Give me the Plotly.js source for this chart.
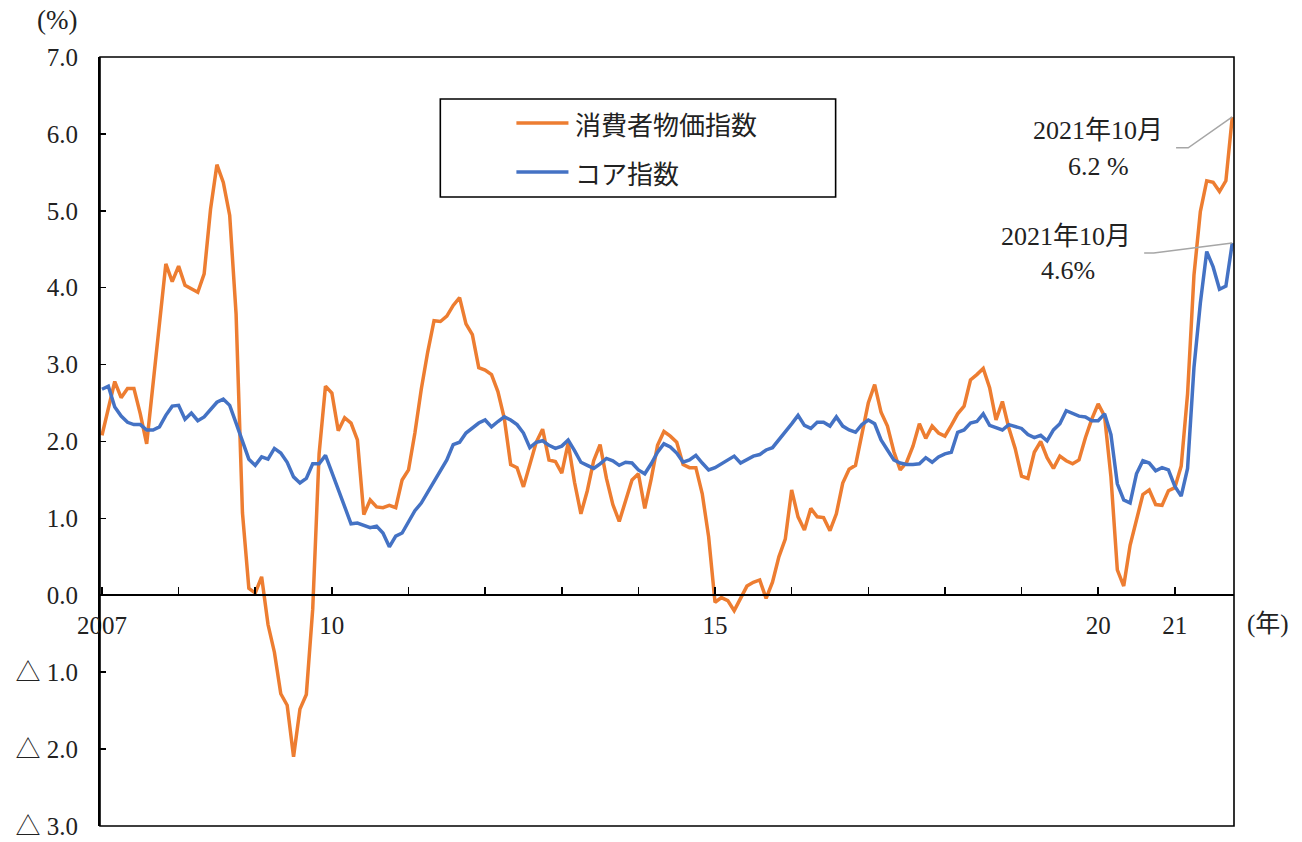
<!DOCTYPE html>
<html>
<head>
<meta charset="utf-8">
<script src="https://cdn.plot.ly/plotly-3.0.1.min.js"></script>
<style>
  html, body { margin: 0; padding: 0; background: #ffffff; }
  #chart { width: 1302px; height: 842px; }
</style>
</head>
<body>
<div id="chart"></div>
<script>
// Monthly data, Jan 2007 - Oct 2021 (year-on-year %)
const cpi = [
  // 2007
  2.08, 2.42, 2.78, 2.57, 2.69, 2.69, 2.36, 1.97, 2.76, 3.54, 4.31, 4.08,
  // 2008
  4.28, 4.03, 3.98, 3.94, 4.18, 5.02, 5.60, 5.37, 4.94, 3.66, 1.07, 0.09,
  // 2009
  0.03, 0.24, -0.38, -0.74, -1.28, -1.43, -2.10, -1.48, -1.29, -0.18, 1.84, 2.72,
  // 2010
  2.63, 2.14, 2.31, 2.24, 2.02, 1.05, 1.24, 1.15, 1.14, 1.17, 1.14, 1.50,
  // 2011
  1.63, 2.11, 2.68, 3.16, 3.57, 3.56, 3.63, 3.77, 3.87, 3.53, 3.39, 2.96,
  // 2012
  2.93, 2.87, 2.65, 2.30, 1.70, 1.66, 1.41, 1.69, 1.99, 2.16, 1.76, 1.74,
  // 2013
  1.59, 1.98, 1.47, 1.06, 1.36, 1.75, 1.96, 1.52, 1.18, 0.96, 1.24, 1.50,
  // 2014
  1.58, 1.13, 1.51, 1.95, 2.13, 2.07, 1.99, 1.70, 1.66, 1.66, 1.32, 0.76,
  // 2015
  -0.09, -0.03, -0.07, -0.20, -0.04, 0.12, 0.17, 0.20, -0.04, 0.17, 0.50, 0.73,
  // 2016
  1.37, 1.02, 0.85, 1.13, 1.02, 1.01, 0.84, 1.06, 1.46, 1.64, 1.69, 2.07,
  // 2017
  2.50, 2.74, 2.38, 2.20, 1.87, 1.63, 1.73, 1.94, 2.23, 2.04, 2.20, 2.11,
  // 2018
  2.07, 2.21, 2.36, 2.46, 2.80, 2.87, 2.95, 2.70, 2.28, 2.52, 2.18, 1.91,
  // 2019
  1.55, 1.52, 1.86, 2.00, 1.79, 1.65, 1.81, 1.75, 1.71, 1.76, 2.05, 2.29,
  // 2020
  2.49, 2.33, 1.54, 0.33, 0.12, 0.65, 0.99, 1.31, 1.37, 1.18, 1.17, 1.36,
  // 2021
  1.40, 1.68, 2.62, 4.16, 4.99, 5.39, 5.37, 5.25, 5.39, 6.22
];

const core = [
  // 2007
  2.68, 2.72, 2.45, 2.33, 2.25, 2.22, 2.22, 2.15, 2.15, 2.19, 2.34, 2.46,
  // 2008
  2.47, 2.29, 2.37, 2.27, 2.32, 2.41, 2.51, 2.55, 2.47, 2.24, 2.02, 1.77,
  // 2009
  1.69, 1.80, 1.77, 1.91, 1.85, 1.73, 1.54, 1.46, 1.52, 1.71, 1.71, 1.82,
  // 2010
  1.60, 1.37, 1.15, 0.93, 0.94, 0.91, 0.88, 0.90, 0.81, 0.63, 0.77, 0.81,
  // 2011
  0.95, 1.10, 1.20, 1.34, 1.50, 1.63, 1.76, 1.96, 1.99, 2.11, 2.17, 2.24,
  // 2012
  2.28, 2.19, 2.26, 2.32, 2.28, 2.22, 2.11, 1.92, 1.99, 2.01, 1.95, 1.91,
  // 2013
  1.94, 2.02, 1.88, 1.73, 1.69, 1.65, 1.71, 1.78, 1.75, 1.69, 1.73, 1.72,
  // 2014
  1.63, 1.58, 1.71, 1.86, 1.97, 1.93, 1.85, 1.73, 1.76, 1.82, 1.72, 1.63,
  // 2015
  1.66, 1.71, 1.76, 1.81, 1.72, 1.76, 1.81, 1.83, 1.89, 1.92, 2.02, 2.12,
  // 2016
  2.23, 2.34, 2.21, 2.17, 2.25, 2.25, 2.20, 2.32, 2.20, 2.15, 2.12, 2.22,
  // 2017
  2.28, 2.23, 2.02, 1.89, 1.76, 1.72, 1.70, 1.70, 1.71, 1.79, 1.73, 1.80,
  // 2018
  1.84, 1.86, 2.12, 2.15, 2.24, 2.26, 2.36, 2.21, 2.18, 2.15, 2.22, 2.20,
  // 2019
  2.17, 2.09, 2.05, 2.08, 2.01, 2.15, 2.23, 2.40, 2.37, 2.33, 2.32, 2.27,
  // 2020
  2.27, 2.36, 2.09, 1.45, 1.24, 1.20, 1.58, 1.75, 1.72, 1.62, 1.66, 1.63,
  // 2021
  1.42, 1.29, 1.65, 2.96, 3.80, 4.47, 4.27, 3.98, 4.02, 4.58
];

const seriesNames = ['消費者物価指数', 'コア指数'];
const xTickLabels = ['2007', '', '', '10', '', '', '', '', '15', '', '', '', '', '20', '21'];
const yTickValues = [-3, -2, -1, 0, 1, 2, 3, 4, 5, 6, 7];
const yTickLabels = ['△ 3.0', '△ 2.0', '△ 1.0', '0.0', '1.0', '2.0', '3.0', '4.0', '5.0', '6.0', '7.0'];
const endLabels = [
  { head: '2021年10月', value: '6.2 %' },
  { head: '2021年10月', value: '4.6%' }
];

const months = cpi.map((_, i) => i);
const lastIdx = months.length - 1;
const xTickVals = xTickLabels.map((_, i) => i * 12);

const ORANGE = '#ED7D31';
const BLUE = '#4472C4';
const SERIF = 'Liberation Serif, Noto Sans CJK JP, serif';
const CJK = 'Noto Sans CJK JP, sans-serif';

const traces = [
  { x: months, y: cpi, name: seriesNames[0], type: 'scatter', mode: 'lines',
    line: { color: ORANGE, width: 3.5 }, showlegend: false, hoverinfo: 'skip' },
  { x: months, y: core, name: seriesNames[1], type: 'scatter', mode: 'lines',
    line: { color: BLUE, width: 3.5 }, showlegend: false, hoverinfo: 'skip' }
];

// legend geometry (paper coords)
const lg = { x0: 0.3001, x1: 0.6487, y0: 0.8179, y1: 0.9454,
             lx0: 0.3672, lx1: 0.4131, tx: 0.4175, r1: 0.9141, r2: 0.8504 };

const shapes = [
  // plot frame
  { type: 'rect', xref: 'paper', yref: 'paper', x0: 0, x1: 1, y0: 0, y1: 1,
    line: { color: '#000', width: 1.6 }, layer: 'above' },
  // legend box
  { type: 'rect', xref: 'paper', yref: 'paper', x0: lg.x0, x1: lg.x1, y0: lg.y0, y1: lg.y1,
    line: { color: '#000', width: 1.6 }, fillcolor: '#fff' },
  { type: 'line', xref: 'paper', yref: 'paper', x0: lg.lx0, x1: lg.lx1, y0: lg.r1, y1: lg.r1,
    line: { color: ORANGE, width: 3.5 } },
  { type: 'line', xref: 'paper', yref: 'paper', x0: lg.lx0, x1: lg.lx1, y0: lg.r2, y1: lg.r2,
    line: { color: BLUE, width: 3.5 } },
  // leader lines to the last points
  { type: 'path', xref: 'x', yref: 'y',
    path: `M 168.2 5.82 L 170.1 5.82 L ${lastIdx} ${cpi[lastIdx]}`,
    line: { color: '#A6A6A6', width: 1.5 } },
  { type: 'path', xref: 'x', yref: 'y',
    path: `M 163.2 4.45 L 164.7 4.45 L ${lastIdx} ${core[lastIdx]}`,
    line: { color: '#A6A6A6', width: 1.5 } }
];

const annotations = [
  { xref: 'paper', yref: 'paper', x: -0.038, y: 1.048, text: '(%)', showarrow: false,
    xanchor: 'center', yanchor: 'middle', font: { family: SERIF, size: 27, color: '#222' } },
  { xref: 'paper', yref: 'paper', x: 1.03, y: 0.263, text: '(年)', showarrow: false,
    xanchor: 'center', yanchor: 'middle', font: { family: SERIF, size: 25, color: '#222' } },
  { xref: 'paper', yref: 'paper', x: lg.tx, y: lg.r1, text: seriesNames[0], showarrow: false,
    xanchor: 'left', yanchor: 'middle', font: { family: CJK, size: 26, color: '#222' } },
  { xref: 'paper', yref: 'paper', x: lg.tx, y: lg.r2, text: seriesNames[1], showarrow: false,
    xanchor: 'left', yanchor: 'middle', font: { family: CJK, size: 26, color: '#222' } },
  { xref: 'x', yref: 'y', x: 156, y: 6.05, text: endLabels[0].head, showarrow: false,
    xanchor: 'center', yanchor: 'middle', font: { family: SERIF, size: 26, color: '#222' } },
  { xref: 'x', yref: 'y', x: 156, y: 5.58, text: endLabels[0].value, showarrow: false,
    xanchor: 'center', yanchor: 'middle', font: { family: SERIF, size: 26, color: '#222' } },
  { xref: 'x', yref: 'y', x: 151, y: 4.67, text: endLabels[1].head, showarrow: false,
    xanchor: 'center', yanchor: 'middle', font: { family: SERIF, size: 26, color: '#222' } },
  { xref: 'x', yref: 'y', x: 151.3, y: 4.23, text: endLabels[1].value, showarrow: false,
    xanchor: 'center', yanchor: 'middle', font: { family: SERIF, size: 26, color: '#222' } }
];

const layout = {
  width: 1302, height: 842,
  paper_bgcolor: '#fff', plot_bgcolor: '#fff',
  margin: { l: 100, r: 68, t: 57, b: 16 },
  showlegend: false,
  xaxis: {
    range: [-0.31, 177.27], anchor: 'free', position: 0.3,
    showgrid: false, zeroline: false,
    showline: true, linecolor: '#000', linewidth: 2,
    ticks: 'inside', ticklen: 7, tickwidth: 1.5, tickcolor: '#000',
    tickmode: 'array', tickvals: xTickVals, ticktext: xTickLabels,
    ticklabelstandoff: 8,
    tickfont: { family: SERIF, size: 25, color: '#222' }
  },
  yaxis: {
    range: [-3, 7], showgrid: false, zeroline: false,
    showline: true, linecolor: '#000', linewidth: 2,
    ticks: 'inside', ticklen: 6, tickwidth: 1.5, tickcolor: '#000',
    tickmode: 'array', tickvals: yTickValues, ticktext: yTickLabels,
    ticklabelstandoff: 15,
    tickfont: { family: SERIF, size: 25, color: '#222' }
  },
  shapes: shapes,
  annotations: annotations
};

Plotly.newPlot('chart', traces, layout, { staticPlot: true, displayModeBar: false });
</script>
</body>
</html>
